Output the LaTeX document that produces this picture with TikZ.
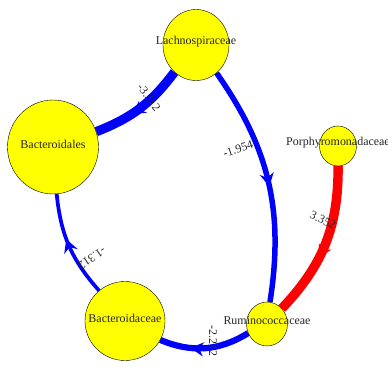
\documentclass[tikz,border=0pt]{standalone}
\usepackage{fontspec}
\setmainfont{Liberation Serif}
\usetikzlibrary{positioning,arrows.meta,shapes.geometric,decorations.markings,backgrounds}
\definecolor{nodeyellow}{RGB}{255,255,0}
\definecolor{negblue}{RGB}{0,0,255}
\definecolor{posred}{RGB}{255,0,0}

\begin{document}
\begin{tikzpicture}[x=1bp,y=1bp,
  taxon/.style={ellipse,draw=black,thin,fill=nodeyellow,inner sep=0pt},
  taxonname/.style={font=\fontsize{12}{14}\selectfont,text=black!85,yshift=3bp},
  wlabel/.style={font=\fontsize{12}{14}\selectfont,text=black!85,inner sep=0pt},
  flow/.style 2 args={line width=#1,postaction={decorate},
    decoration={markings,mark=at position #2 with {\arrow{Stealth[length=13bp,width=14bp]}}}}]

    \useasboundingbox (0,0) rectangle (388,367);

    % The taxa
	\node [taxon,minimum width=66bp,minimum height=71bp,label={[taxonname]center:Lachnospiraceae}] at (196,322) (lach) {};
	\node [taxon,minimum width=91bp,minimum height=94bp,label={[taxonname]center:Bacteroidales}] at (53,220) (bord) {};
	\node [taxon,minimum width=37bp,minimum height=40bp,label={[taxonname]center:Porphyromonadaceae}] at (338,221) (porph) {};
	\node [taxon,minimum width=41bp,minimum height=44bp,label={[taxonname]center:Ruminococcaceae}] at (267,43) (rumin) {};
	\node [taxon,minimum width=80bp,minimum height=79bp,label={[taxonname]center:Bacteroidaceae}] at (125,46) (bcea) {};

	% Weighted edges
	\begin{pgfonlayer}{background}
	\path
	(lach) edge[negblue,flow={9.3bp}{0.6},bend left=16] (bord)
	(lach) edge[negblue,flow={5.5bp}{0.52},bend left=22] (rumin)
	(porph) edge[posred,flow={9.4bp}{0.6},bend left=22] (rumin)
	(rumin) edge[negblue,flow={6.2bp}{0.66},bend left=27] (bcea)
	(bcea) edge[negblue,flow={3.7bp}{0.57},bend left=18] (bord);
	\end{pgfonlayer}

	% Edge weights
	\node [wlabel,rotate=-54] at (149,269.5) (w1) {-3.312};
	\node [wlabel,rotate=18] at (238,218) (w2) {-1.954};
	\node [wlabel,rotate=-26] at (323,147) (w3) {3.352};
	\node [wlabel,rotate=-90] at (213,26) (w4) {-2.212};
	\node [wlabel,rotate=214] at (92,109) (w5) {-1.312};

\end{tikzpicture}
\end{document}
